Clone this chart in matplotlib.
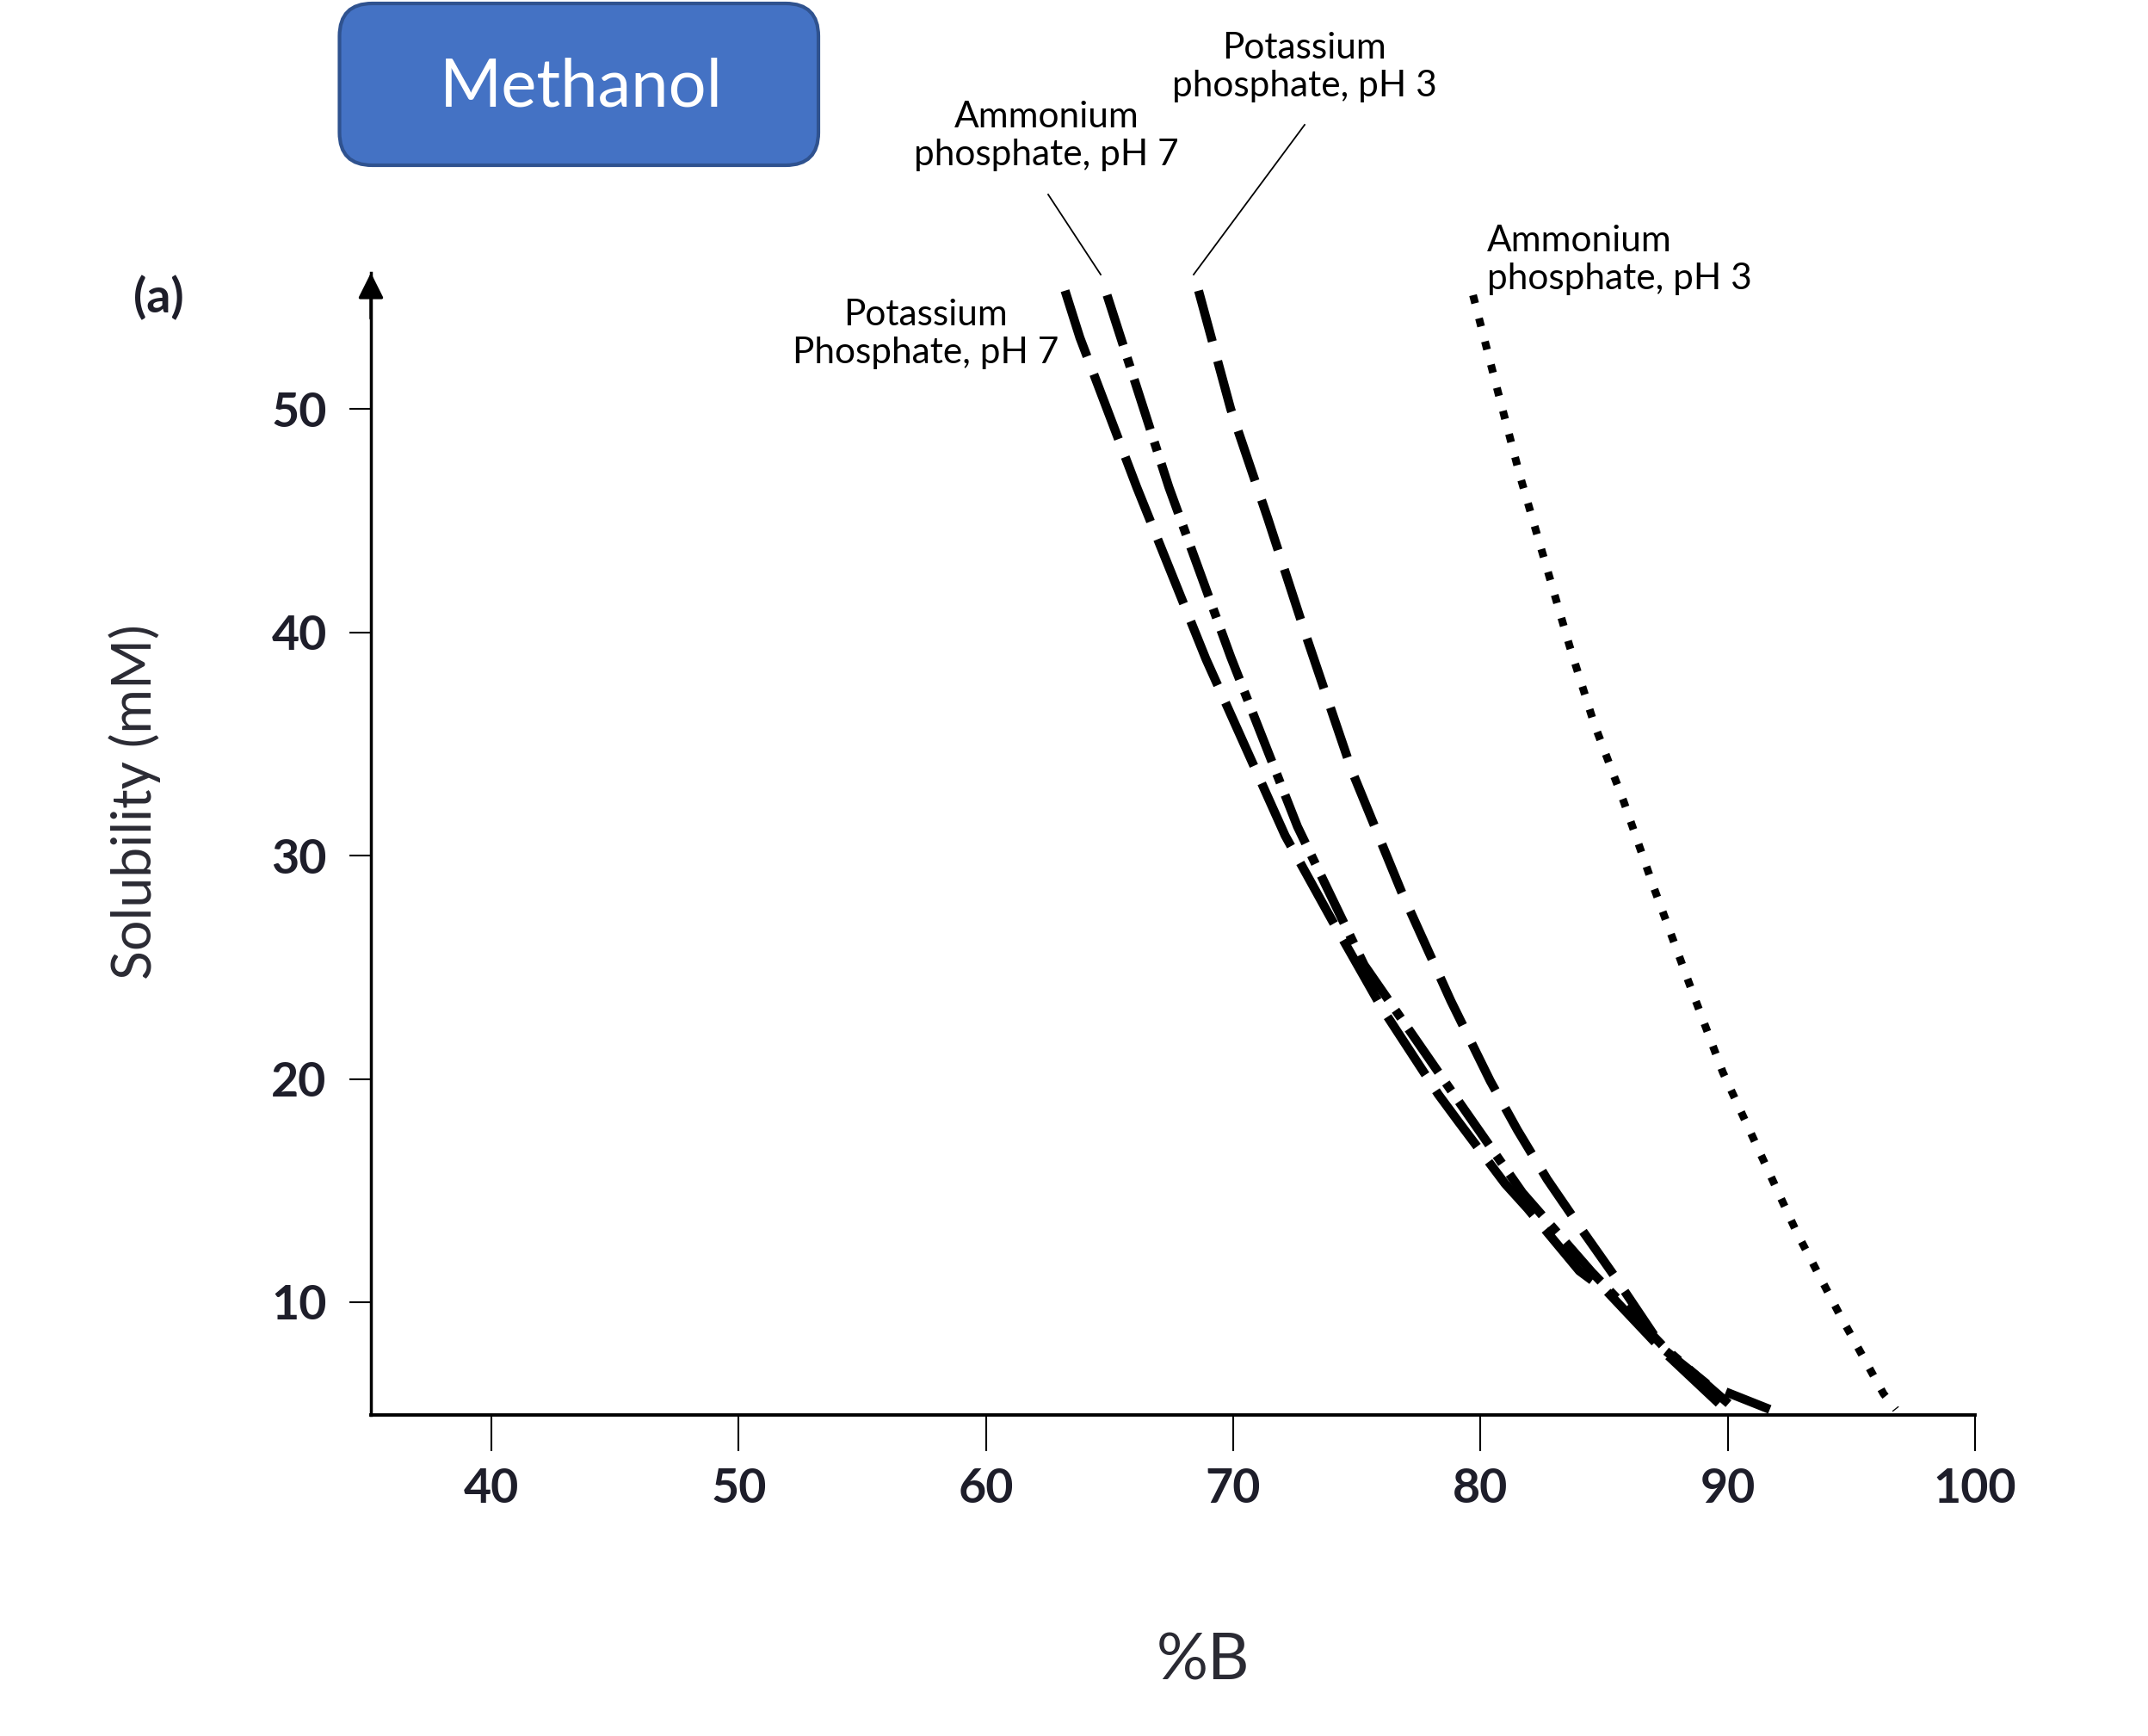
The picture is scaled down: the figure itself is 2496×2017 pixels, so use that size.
import matplotlib
matplotlib.use("Agg")
import matplotlib.pyplot as plt
from matplotlib.patches import FancyBboxPatch
from matplotlib.lines import Line2D

plt.rcParams['font.family'] = ['Lato', 'DejaVu Sans']
plt.rcParams['lines.scale_dashes'] = False

#------------------------------------------------------------------------------
# curves: %B (x) against solubility in mM (y)

kp7_x = [63.2, 63.8, 66.1, 68.9, 72.1, 74.0, 76.0, 78.3, 79.1, 81.0, 81.9, 84.0, 85.1, 87.4, 89.9]
kp7_y = [55.3, 53.2, 46.5, 38.8, 30.9, 27.1, 23.2, 19.3, 18.1, 15.3, 14.2, 11.4, 10.5, 7.8, 5.2]

np7_x = [64.9, 67.4, 69.9, 72.6, 75.3, 78.8, 81.7, 84.5, 87.5, 90.3]
np7_y = [55.1, 46.5, 38.9, 31.3, 25.1, 19.5, 14.9, 11.35, 7.9, 5.2]

kp3_x = [68.6, 69.9, 71.4, 72.9, 74.8, 76.8, 78.8, 80.4, 81.5, 82.7, 84.0, 85.4, 87.4, 89.2, 91.7]
kp3_y = [55.3, 50.0, 45.1, 40.0, 33.8, 28.4, 23.5, 19.9, 17.7, 15.5, 13.4, 11.2, 7.9, 6.3, 5.2]

np3_x = [79.7, 80.7, 81.6, 82.6, 83.6, 84.6, 85.8, 87.0, 88.5, 89.8, 91.3, 92.8, 94.5, 96.3, 96.8]
np3_y = [55.1, 50.8, 47.0, 43.2, 39.4, 35.9, 32.4, 28.6, 24.1, 20.3, 16.7, 13.1, 9.5, 5.9, 5.2]

x_ticks = [40, 50, 60, 70, 80, 90, 100]
y_ticks = [10, 20, 30, 40, 50]

#------------------------------------------------------------------------------

fig = plt.figure(figsize=(24.96, 20.17), dpi=100)
W, H = 2496.0, 2017.0                                                          # pixel size, used to place the free texts

ax = fig.add_axes([431 / W, 1 - 1644 / H, 1864 / W, 1327 / H])

ax.plot(kp7_x, kp7_y, color='black', lw=7.5, dashes=(58, 16))                  # long dash
ax.plot(np7_x, np7_y, color='black', lw=7.5, dashes=(44, 11, 8, 11))           # dash dot
ax.plot(kp3_x, kp3_y, color='black', lw=7.5, dashes=(44, 17))                  # dashed
ax.plot(np3_x, np3_y, color='black', lw=6.5, dashes=(7, 13))                   # dotted

ax.set_xlim(35.13, 100)
ax.set_ylim(4.95, 56.1)

ax.spines['top'].set_visible(False)
ax.spines['right'].set_visible(False)
ax.spines['left'].set_linewidth(2.5)
ax.spines['bottom'].set_linewidth(2.8)

ax.set_xticks(x_ticks)
ax.set_yticks(y_ticks)
ax.tick_params(axis='y', length=18, width=1.5, pad=19, labelsize=40,
               labelcolor='#1e1e2a')
ax.tick_params(axis='x', length=30, width=1.5, pad=14, labelsize=40,
               labelcolor='#1e1e2a')
for lab in ax.get_xticklabels() + ax.get_yticklabels():
    lab.set_fontweight('bold')

# arrow head on top of the y axis
ax.annotate('', xy=(0, 1), xytext=(0, 0.96), xycoords='axes fraction',
            arrowprops=dict(arrowstyle='-|>', color='black', lw=2.5,
                            mutation_scale=45, shrinkA=0, shrinkB=0))

ax.set_xlabel('%B', fontsize=54, color='#2a2a33', va='center')
ax.xaxis.set_label_coords(0.519, -0.2155)
ax.set_ylabel('Solubility (mM)', fontsize=45, color='#2a2a33', va='center')
ax.yaxis.set_label_coords(-0.147, 0.5366)

fig.text(184 / W, 1 - 346 / H, '(a)', fontsize=40, fontweight='bold',
         color='#1e1e2a', ha='center', va='center')

#------------------------------------------------------------------------------
# Methanol box

box = FancyBboxPatch((3.945, 20.17 - 1.92), 5.565, 1.88,
                     boxstyle='round,pad=0,rounding_size=0.38',
                     transform=fig.dpi_scale_trans, facecolor='#4472C4',
                     edgecolor='#2F528F', lw=3)
fig.add_artist(box)
fig.text(675 / W, 1 - 123 / H, 'Methanol', fontsize=56, color='white',
         ha='center', va='baseline')

#------------------------------------------------------------------------------
# curve labels and leader lines

fig.text(1516 / W, 1 - 78 / H, 'Potassium\nphosphate, pH 3', fontsize=30.5,
         ha='center', va='center', multialignment='center', linespacing=1.22)
fig.text(1216 / W, 1 - 158 / H, 'Ammonium\nphosphate, pH 7', fontsize=30.5,
         ha='center', va='center', multialignment='center', linespacing=1.22)
fig.text(1728 / W, 1 - 302 / H, 'Ammonium\nphosphate, pH 3', fontsize=30.5,
         ha='left', va='center', multialignment='left', linespacing=1.22)
fig.text(1076 / W, 1 - 388 / H, 'Potassium\nPhosphate, pH 7', fontsize=30.5,
         ha='center', va='center', multialignment='center', linespacing=1.22)

fig.add_artist(Line2D([1516 / W, 1387 / W], [1 - 145 / H, 1 - 319 / H],
                      color='black', lw=1.3))
fig.add_artist(Line2D([1218 / W, 1279 / W], [1 - 226 / H, 1 - 319 / H],
                      color='black', lw=1.3))

fig.savefig('out.png', dpi=100)
